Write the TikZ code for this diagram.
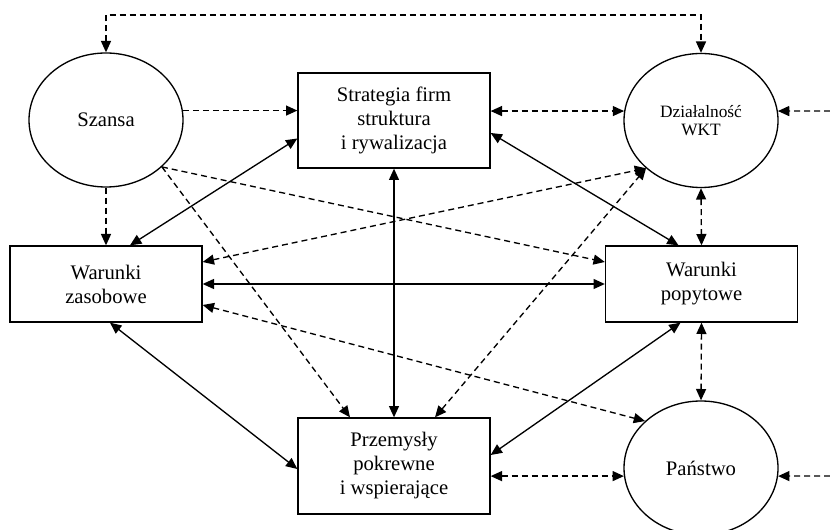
\documentclass[tikz,border=0pt]{standalone}
\usepackage{fontspec}
\setmainfont{Liberation Serif}
\usetikzlibrary{arrows.meta,shapes.geometric,calc}
\begin{document}
\begin{tikzpicture}[x=0.75pt,y=-0.75pt,
  tip/.tip={Triangle[length=8.5pt,width=7.5pt]},
  sol/.style={draw=black,line width=1pt},
  dsh/.style={draw=black,line width=1pt,dash pattern=on 4.5pt off 3pt},
  boxnode/.style={draw,line width=1pt,rectangle,minimum width=144pt,align=center,
     font=\fontsize{15.5}{18}\selectfont,inner sep=0pt},
  ellnode/.style={draw,line width=1pt,ellipse,minimum width=115.5pt,minimum height=100.5pt,inner sep=0pt,align=center}
]
\useasboundingbox (0,0) rectangle (830,530);

\node[ellnode,font=\fontsize{15.5}{18}\selectfont] (Sz) at (106,120) {Szansa};
\node[ellnode,font=\fontsize{13}{13}\selectfont] (Dz) at (701,120.5) {Działalność\\WKT};
\node[ellnode,font=\fontsize{15.5}{18}\selectfont] (Pa) at (701,468) {Państwo};
\node[boxnode,minimum height=71.25pt] (St) at (394,120.5) {Strategia firm\\struktura\\i rywalizacja};
\node[boxnode,minimum height=57pt] (WZ) at (106,284) {Warunki\\zasobowe};
\node[boxnode,minimum height=57pt] (WP) at (701.5,284) {Warunki\\popytowe};
\node[boxnode,minimum height=72pt] (Pr) at (394,466) {Przemysły\\pokrewne\\i wspierające};

\coordinate (t1) at (106,15);
\coordinate (t2) at (701,15);
\coordinate (r1) at (830,111);
\coordinate (r2) at (830,476);

% dashed orthogonal
\draw[dsh,{tip}-{tip}] (Sz.north) -- (t1) -- (t2) -- (Dz.north);
\draw[dsh,-{tip}] (Sz.7) -- (Sz.7 -| St.west);
\draw[dsh,{tip}-{tip}] (Dz.173 -| St.east) -- (Dz.173);
\draw[dsh,-{tip}] (r1) -- (Dz.7);
\draw[dsh,-{tip}] (Sz.south) -- (WZ.north);
\draw[dsh,{tip}-{tip}] (Dz.south) -- (WP.north);
\draw[dsh,{tip}-{tip}] (WP.south) -- (Pa.north);
\draw[dsh,{tip}-{tip}] (Pa.186 -| Pr.east) -- (Pa.186);
\draw[dsh,-{tip}] (r2) -- (Pa.-6);

% solid
\draw[sol,{tip}-{tip}] ($(St.west)+(0,18)$) -- ($(WZ.north)+(24,0)$);
\draw[sol,{tip}-{tip}] (St.south) -- (Pr.north);
\draw[sol,{tip}-{tip}] ($(St.east)+(0,12.5)$) -- ($(WP.north)+(-23,0)$);
\draw[sol,{tip}-{tip}] (WZ.east) -- (WP.west);
\draw[sol,{tip}-{tip}] ($(WZ.south)+(4,0)$) -- ($(Pr.west)+(0,3)$);
\draw[sol,{tip}-{tip}] ($(WP.south)+(-21,0)$) -- ($(Pr.east)+(0,-11)$);

% dashed diagonals
\draw[dsh,-{tip}] (Sz.-40) -- ($(WP.west)+(0,-22)$);
\draw[dsh,-{tip}] (Sz.-40) -- ($(Pr.north)+(-44,0)$);
\draw[dsh,{tip}-{tip}] ($(WZ.east)+(0,-22)$) -- (Dz.221);
\draw[dsh,{tip}-{tip}] ($(Pr.north)+(41,0)$) -- (Dz.221);
\draw[dsh,{tip}-{tip}] ($(WZ.east)+(0,21)$) -- (Pa.140);
\end{tikzpicture}
\end{document}
